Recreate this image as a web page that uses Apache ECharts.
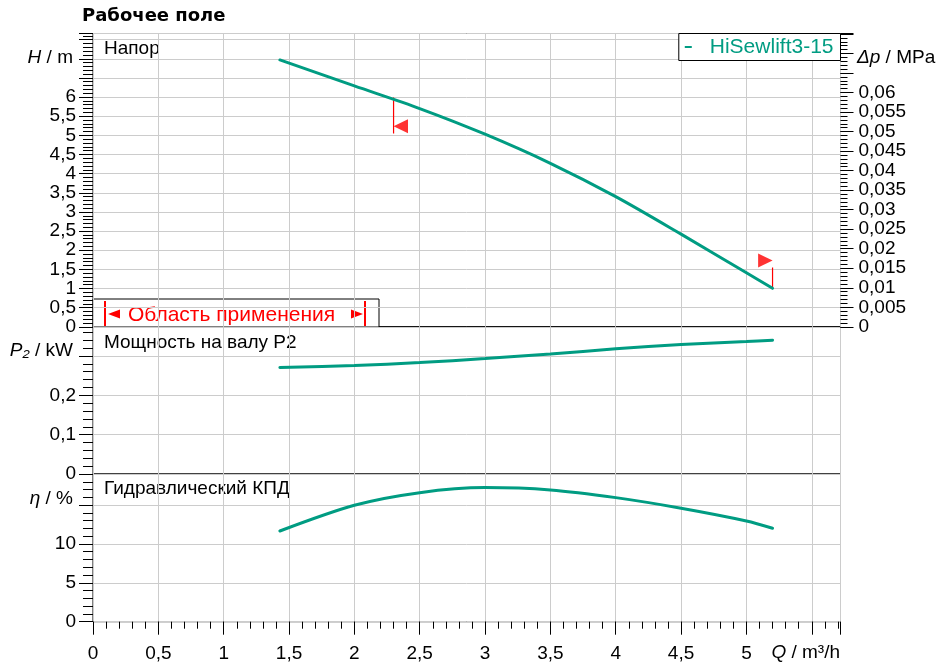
<!DOCTYPE html>
<html><head><meta charset="utf-8">
<script src="https://cdn.jsdelivr.net/npm/echarts@6/dist/echarts.min.js"></script>
<style>html,body{margin:0;padding:0;background:#fff}#c{width:939px;height:665px}</style>
</head><body><div id="c"></div>
<script>
// ---- data ----
const flowQ   = [1.43, 2.0, 2.5, 3.0, 3.5, 4.0, 4.5, 5.0, 5.2];
const headH   = [6.97, 6.29, 5.70, 5.03, 4.27, 3.40, 2.42, 1.41, 1.005];
const powerP2 = [0.2705, 0.2756, 0.283, 0.2934, 0.305, 0.318, 0.329, 0.3366, 0.340];
const effEta  = [11.67, 14.98, 16.6, 17.25, 16.95, 15.96, 14.6, 12.96, 12.02];
const limitMinQ = [2.3, 2.3];      const limitMinH = [5.99, 5.05];  const flagMinH = 5.24;
const limitMaxQ = [5.2, 5.2];      const limitMaxH = [1.005, 1.55]; const flagMaxH = 1.73;
const qLabels   = [0, 0.5, 1, 1.5, 2, 2.5, 3, 3.5, 4, 4.5, 5];
const hLabels   = [0, 0.5, 1, 1.5, 2, 2.5, 3, 3.5, 4, 4.5, 5, 5.5, 6];
const dpLabels  = [0, 0.005, 0.01, 0.015, 0.02, 0.025, 0.03, 0.035, 0.04, 0.045, 0.05, 0.055, 0.06];
const pLabels   = [0, 0.1, 0.2];
const etaLabels = [0, 5, 10];
const seriesName = 'HiSewlift3-15';
const qMax = 5.72, hMax = 7.66, pMax = 0.374, etaMax = 19.0;
const dpMax = hMax * 0.00980665;
const qMinorTicks = Array.from({length: 58}, (_, i) => i / 10);

const FF = 'Liberation Sans, Arial, sans-serif';
const TEAL = '#009c82';
const GRIDC = '#cccccc';
const fmt = v => String(+v.toFixed(4)).replace('.', ',');
const labelFn = arr => v => arr.some(x => Math.abs(x - v) < 1e-9) ? fmt(v) : '';
const pairs = (xs, ys) => xs.map((x, i) => [x, ys[i]]);

const gridBase = {left: 93, right: 98.5, show: true, borderColor: '#000', borderWidth: 1, backgroundColor: 'transparent'};
const lblStyle = {fontFamily: FF, fontSize: 19, color: '#000'};

function xAx(gi, withLabels) {
  return {type: 'value', gridIndex: gi, min: 0, max: qMax, interval: 0.5,
    axisLine: {show: false, onZero: false},
    axisTick: {show: withLabels, length: 13, lineStyle: {color: '#000'}},
    axisLabel: {show: withLabels, margin: 23, formatter: labelFn(qLabels), ...lblStyle},
    splitLine: {show: true, lineStyle: {color: GRIDC, width: 1}}};
}
function minorAx(gi, max, interval, len, pos) {
  return {type: 'value', gridIndex: gi, min: 0, max: max, interval: interval, position: pos,
    axisLine: {show: false, onZero: false},
    axisTick: {show: true, length: len, lineStyle: {color: '#000'}},
    axisLabel: {show: false}, splitLine: {show: false}};
}
function yMajor(gi, max, interval, labels, pos, split, len, margin) {
  return {type: 'value', gridIndex: gi, min: 0, max: max, interval: interval, position: pos,
    axisLine: {show: false, onZero: false},
    axisTick: {show: true, length: len, lineStyle: {color: '#000'}},
    axisLabel: {show: true, margin: margin, formatter: labelFn(labels), ...lblStyle},
    splitLine: {show: split, lineStyle: {color: GRIDC, width: 1}}};
}
const curve = (name, xi, yi, ys) => ({name: name, type: 'line', xAxisIndex: xi, yAxisIndex: yi,
  data: pairs(flowQ, ys), smooth: 0.3, symbol: 'none',
  lineStyle: {color: TEAL, width: 3, cap: 'round'}, itemStyle: {color: TEAL}, z: 5});

const xMinor = minorAx(2, qMax, 0.1, 7, 'bottom');
xMinor.axisTick.customValues = qMinorTicks;

const option = {
  animation: false,
  title: {text: 'Рабочее поле', left: 82, top: 7, padding: 0,
    textStyle: {fontFamily: 'DejaVu Sans', fontWeight: 'bold', fontSize: 18, color: '#000'}},
  legend: {data: [seriesName], right: 98.5, top: 33.5, padding: [3, 7, 3, 6],
    borderColor: '#000', borderWidth: 1, backgroundColor: '#fff', icon: 'rect',
    itemWidth: 7, itemHeight: 2, selectedMode: false,
    textStyle: {fontFamily: FF, fontSize: 21, color: TEAL, padding: [0, 0, 0, 13]}},
  grid: [
    {...gridBase, top: 33.5, height: 293.3},
    {...gridBase, top: 326.8, height: 147.2},
    {...gridBase, top: 474, height: 147.7}
  ],
  xAxis: [
    xAx(0, false), xAx(1, false), xAx(2, true), xMinor
  ],
  yAxis: [
    yMajor(0, hMax, 0.5, hLabels, 'left', true, 14, 17),
    minorAx(0, hMax, 0.1, 10, 'left'),
    yMajor(0, dpMax, 0.005, dpLabels, 'right', false, 13, 18),
    minorAx(0, dpMax, 0.001, 7, 'right'),
    yMajor(1, pMax, 0.1, pLabels, 'left', true, 14, 17),
    minorAx(1, pMax, 0.02, 10, 'left'),
    yMajor(2, etaMax, 5, etaLabels, 'left', true, 14, 17),
    minorAx(2, etaMax, 1, 10, 'left')
  ],
  series: [
    curve(seriesName, 0, 0, headH),
    curve('P2', 1, 4, powerP2),
    curve('eta', 2, 6, effEta),
    {name: 'limMin', type: 'line', xAxisIndex: 0, yAxisIndex: 0, data: pairs(limitMinQ, limitMinH),
      symbol: 'none', lineStyle: {color: '#ff0000', width: 1.2}, z: 4},
    {name: 'limMax', type: 'line', xAxisIndex: 0, yAxisIndex: 0, data: pairs(limitMaxQ, limitMaxH),
      symbol: 'none', lineStyle: {color: '#ff0000', width: 1.2}, z: 4},
    {name: 'flags', type: 'scatter', xAxisIndex: 0, yAxisIndex: 0, symbol: 'triangle',
      symbolSize: [14, 14.5], itemStyle: {color: '#ff0000'}, z: 6,
      data: [
        {value: [limitMinQ[0], flagMinH], symbolRotate: 90, symbolOffset: [7.2, 0]},
        {value: [limitMaxQ[0], flagMaxH], symbolRotate: -90, symbolOffset: [-7.2, 0]}
      ]}
  ],
  graphic: [
    {type: 'text', left: 104, top: 39, style: {text: 'Напор', fontFamily: FF, fontSize: 19, fill: '#000'}},
    {type: 'text', left: 104, top: 333, style: {text: 'Мощность на валу P2', fontFamily: FF, fontSize: 19, fill: '#000'}},
    {type: 'text', left: 104, top: 479, style: {text: 'Гидравлический КПД', fontFamily: FF, fontSize: 19, fill: '#000'}},
    {type: 'text', x: 73, y: 58, style: {text: '{i|H} / m', align: 'right', verticalAlign: 'middle', fontFamily: FF, fontSize: 19, fill: '#000',
      rich: {i: {fontStyle: 'italic', fontFamily: FF, fontSize: 19}}}},
    {type: 'text', x: 73, y: 351, style: {text: '{i|P₂} / kW', align: 'right', verticalAlign: 'middle', fontFamily: FF, fontSize: 19, fill: '#000',
      rich: {i: {fontStyle: 'italic', fontFamily: FF, fontSize: 19}}}},
    {type: 'text', x: 73, y: 499, style: {text: '{i|η} / %', align: 'right', verticalAlign: 'middle', fontFamily: FF, fontSize: 19, fill: '#000',
      rich: {i: {fontStyle: 'italic', fontFamily: FF, fontSize: 19}}}},
    {type: 'text', x: 840, y: 653, style: {text: '{i|Q} / m³/h', align: 'right', verticalAlign: 'middle', fontFamily: FF, fontSize: 19, fill: '#000',
      rich: {i: {fontStyle: 'italic', fontFamily: FF, fontSize: 19}}}},
    {type: 'text', x: 857, y: 58, style: {text: '{i|Δp} / MPa', align: 'left', verticalAlign: 'middle', fontFamily: FF, fontSize: 19, fill: '#000',
      rich: {i: {fontStyle: 'italic', fontFamily: FF, fontSize: 19}}}},
    {type: 'group', z: 20, children: [
      {type: 'rect', shape: {x: 93, y: 299, width: 286, height: 28}, style: {fill: '#fff', stroke: '#000', lineWidth: 1}},
      {type: 'line', shape: {x1: 105, y1: 301, x2: 105, y2: 326}, style: {stroke: '#ff0000', lineWidth: 2}},
      {type: 'line', shape: {x1: 365, y1: 301, x2: 365, y2: 326}, style: {stroke: '#ff0000', lineWidth: 2}},
      {type: 'polygon', shape: {points: [[108, 314], [120, 309.5], [120, 318.5]]}, style: {fill: '#ff0000'}},
      {type: 'polygon', shape: {points: [[363, 314], [351, 309.5], [351, 318.5]]}, style: {fill: '#ff0000'}},
      {type: 'text', x: 128, y: 315, style: {text: 'Область применения', verticalAlign: 'middle', fontFamily: FF, fontSize: 21, fill: '#ff0000'}}
    ]}
  ]
};
const chart = echarts.init(document.getElementById('c'), null, {renderer: 'canvas'});
chart.setOption(option);
</script></body></html>
